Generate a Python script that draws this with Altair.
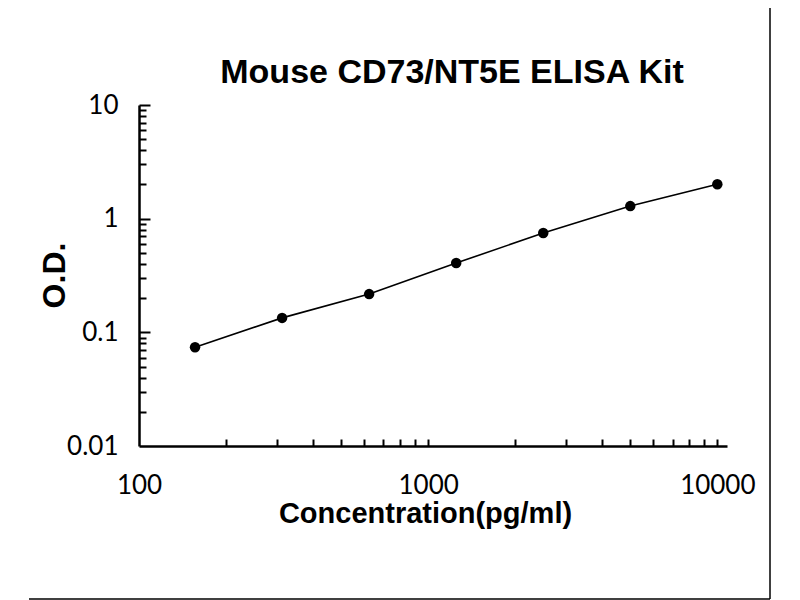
import altair as alt
import pandas as pd

# Data
concentration = [156.25, 312.5, 625, 1250, 2500, 5000, 10000]
od = [0.074, 0.134, 0.217, 0.407, 0.747, 1.29, 2.01]

x_major = [100, 1000, 10000]
x_minor = [200, 300, 400, 500, 600, 700, 800, 900, 1000,
           2000, 3000, 4000, 5000, 6000, 7000, 8000, 9000, 10000]
y_major_labels = [0.01, 0.1, 1, 10]
y_major_ticks = [0.1, 1, 10]
y_minor = [0.02, 0.03, 0.04, 0.05, 0.06, 0.07, 0.08, 0.09,
           0.2, 0.3, 0.4, 0.5, 0.6, 0.7, 0.8, 0.9,
           2, 3, 4, 5, 6, 7, 8, 9]
chart_title = ["Mouse CD73/NT5E ELISA Kit"]

df = pd.DataFrame({"conc": concentration, "od": od})

PW, PH = 588, 341
xs = alt.Scale(type="log", domain=[100, 10800])
ys = alt.Scale(type="log", domain=[0.01, 10])

LABEL_FONT = "Lato"
TITLE_FONT = "Liberation Sans"

x_main_axis = alt.Axis(
    values=x_major, labelExpr="datum.value", ticks=False, tickSize=0,
    grid=False, domainColor="black", domainWidth=2.5,
    labelFont=LABEL_FONT, labelFontSize=26, labelColor="black",
    labelBaseline="middle", labelPadding=39, labelFlush=False, labelOverlap=False,
    title="Concentration(pg/ml)", titleFont=TITLE_FONT, titleFontSize=29,
    titleFontWeight="bold", titleColor="black", titleBaseline="alphabetic",
    titleX=286, titleY=76, titleAlign="center", orient="bottom",
)
y_main_axis = alt.Axis(
    values=y_major_labels, labelExpr="datum.value", ticks=False, tickSize=0,
    grid=False, domainColor="black", domainWidth=2.5,
    labelFont=LABEL_FONT, labelFontSize=26, labelColor="black",
    labelPadding=21, labelFlush=False, labelOverlap=False,
    title="O.D.", titleFont=TITLE_FONT, titleFontSize=32,
    titleFontWeight="bold", titleColor="black", titleBaseline="alphabetic",
    titleX=-75, titleY=170, titleAlign="center", titleAngle=270, orient="left",
)

base = alt.Chart(df)

line = base.mark_line(color="black", strokeWidth=1.6).encode(
    x=alt.X("conc:Q", scale=xs, axis=x_main_axis),
    y=alt.Y("od:Q", scale=ys, axis=y_main_axis),
)
points = base.mark_circle(color="black", opacity=1, size=110).encode(
    x=alt.X("conc:Q", scale=xs, axis=None),
    y=alt.Y("od:Q", scale=ys, axis=None),
)


def tick_axis(vals, orient, size):
    return alt.Axis(
        values=vals, orient=orient, offset=-size, tickSize=size,
        tickColor="black", tickWidth=2, domain=False, labels=False,
        grid=False, title=None,
    )


x_ticks = base.mark_circle(opacity=0).encode(
    x=alt.X("conc:Q", scale=xs, axis=tick_axis(x_minor, "bottom", 7)),
    y=alt.Y("od:Q", scale=ys, axis=tick_axis(y_minor, "left", 7)),
)
y_ticks = base.mark_circle(opacity=0).encode(
    x=alt.X("conc:Q", scale=xs, axis=None),
    y=alt.Y("od:Q", scale=ys, axis=tick_axis(y_major_ticks, "left", 11)),
)

frame_df = pd.DataFrame({"k": [0]})
right_line = alt.Chart(frame_df).mark_rule(color="black", strokeWidth=1.5).encode(
    x=alt.value(631), y=alt.value(-97), y2=alt.value(494)
)
bottom_line = alt.Chart(frame_df).mark_rule(color="black", strokeWidth=1.5).encode(
    x=alt.value(-110), x2=alt.value(631), y=alt.value(494)
)

title_df = pd.DataFrame({"t": chart_title})
title = alt.Chart(title_df).mark_text(
    font=TITLE_FONT, fontSize=34, fontWeight="bold", color="black",
    align="center", baseline="alphabetic",
).encode(text="t:N", x=alt.value(313), y=alt.value(-22))

chart = (
    alt.layer(line, points, x_ticks, y_ticks, right_line, bottom_line, title)
    .resolve_axis(x="independent", y="independent")
    .properties(
        width=PW, height=PH,
        autosize=alt.AutoSizeParams(type="none"),
        padding={"left": 131, "top": 97, "right": 45, "bottom": 154},
        background="white",
    )
    .configure_view(stroke=None)
)

chart.save("out.html", embed_options={"renderer": "svg", "actions": False})
